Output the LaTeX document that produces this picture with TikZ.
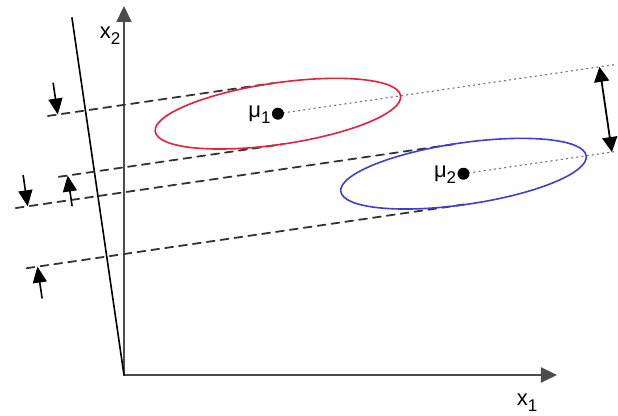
\documentclass[tikz,border=0pt]{standalone}
\usepackage{fontspec}
\setmainfont{Liberation Sans}
\usetikzlibrary{arrows.meta}
\definecolor{classred}{RGB}{228,34,62}
\definecolor{classblue}{RGB}{64,64,208}
\newcommand{\idx}[1]{\raisebox{-3pt}{\fontsize{8.5}{9}\selectfont #1}}

\begin{document}
\begin{tikzpicture}[x=0.5pt, y=0.5pt, line cap=round, line join=round,
    proj/.style={dash pattern=on 4pt off 3pt, line width=0.9pt, black!80},
    meanline/.style={dotted, line width=0.6pt, black!55},
    shift arrow/.style={-{Triangle[length=8pt,width=7pt]}, line width=0.8pt},
    lbl/.style={font=\fontsize{11}{13}\selectfont, inner sep=0pt}]
    % Frame of the whole picture, origin at the corner of the axes
    \useasboundingbox (-124,-41) rectangle (494,375);

    % Axes x1 and x2
    \draw[black!70, line width=1pt, -{Triangle[length=8pt,width=7.5pt]}] (0,0) -- (0,369);
    \draw[black!70, line width=1pt, -{Triangle[length=8pt,width=7.5pt]}] (0,0) -- (433,0);
    \node[lbl] (x2) at (-14,339) {x\idx{2}};
    \node[lbl] (x1) at (403,-28) {x\idx{1}};

    % Everything else sits in the frame of the projection line
    % (x along the ellipses, y along the line)
    \begin{scope}[rotate=8.29]
      \coordinate (o) at (0,0);
      \coordinate (w) at (0,361);
      \coordinate (m1) at (190,236.4);
      \coordinate (m2) at (365,150.25);

      % Projection line
      \draw[line width=0.8pt] (o) -- (w);

      % Dashed tangents of the two ellipses
      \foreach \s/\t/\e in {-38/267.3/190, -36/205.5/190, -83/180.8/365, -81/119.7/365}
        \draw[proj] (\s,\t) -- (\e,\t);

      % Small arrows onto the tangents
      \foreach \s/\a/\b in {-28/299/267.3, -27/175/205.5, -71/212/180.8, -70/88/119.7}
        \draw[shift arrow] (\s,\a) -- (\s,\b);

      % Dotted lines through the means
      \draw[meanline] (m1) -- (533,236.4);
      \draw[meanline] (m2) -- (520,150.25);

      % Distance between the projected means
      \coordinate (d1) at (515,236.4);
      \coordinate (d2) at (515,150.25);
      \draw[{Triangle[length=7.5pt,width=7.5pt]}-{Triangle[length=7.5pt,width=7.5pt]}, line width=0.9pt] (d1) -- (d2);

      % Class ellipses
      \draw[classred, line width=0.8pt] (m1) ellipse [x radius=124, y radius=30.8];
      \draw[classblue, line width=0.8pt] (m2) ellipse [x radius=124, y radius=30.8];

      % Means
      \fill (m1) circle [radius=6];
      \fill (m2) circle [radius=6];
      \node[lbl, anchor=east] (mu1) at ([xshift=-3.5pt]m1) {μ\idx{1}};
      \node[lbl, anchor=east] (mu2) at ([xshift=-3.5pt]m2) {μ\idx{2}};
    \end{scope}

\end{tikzpicture}
\end{document}
